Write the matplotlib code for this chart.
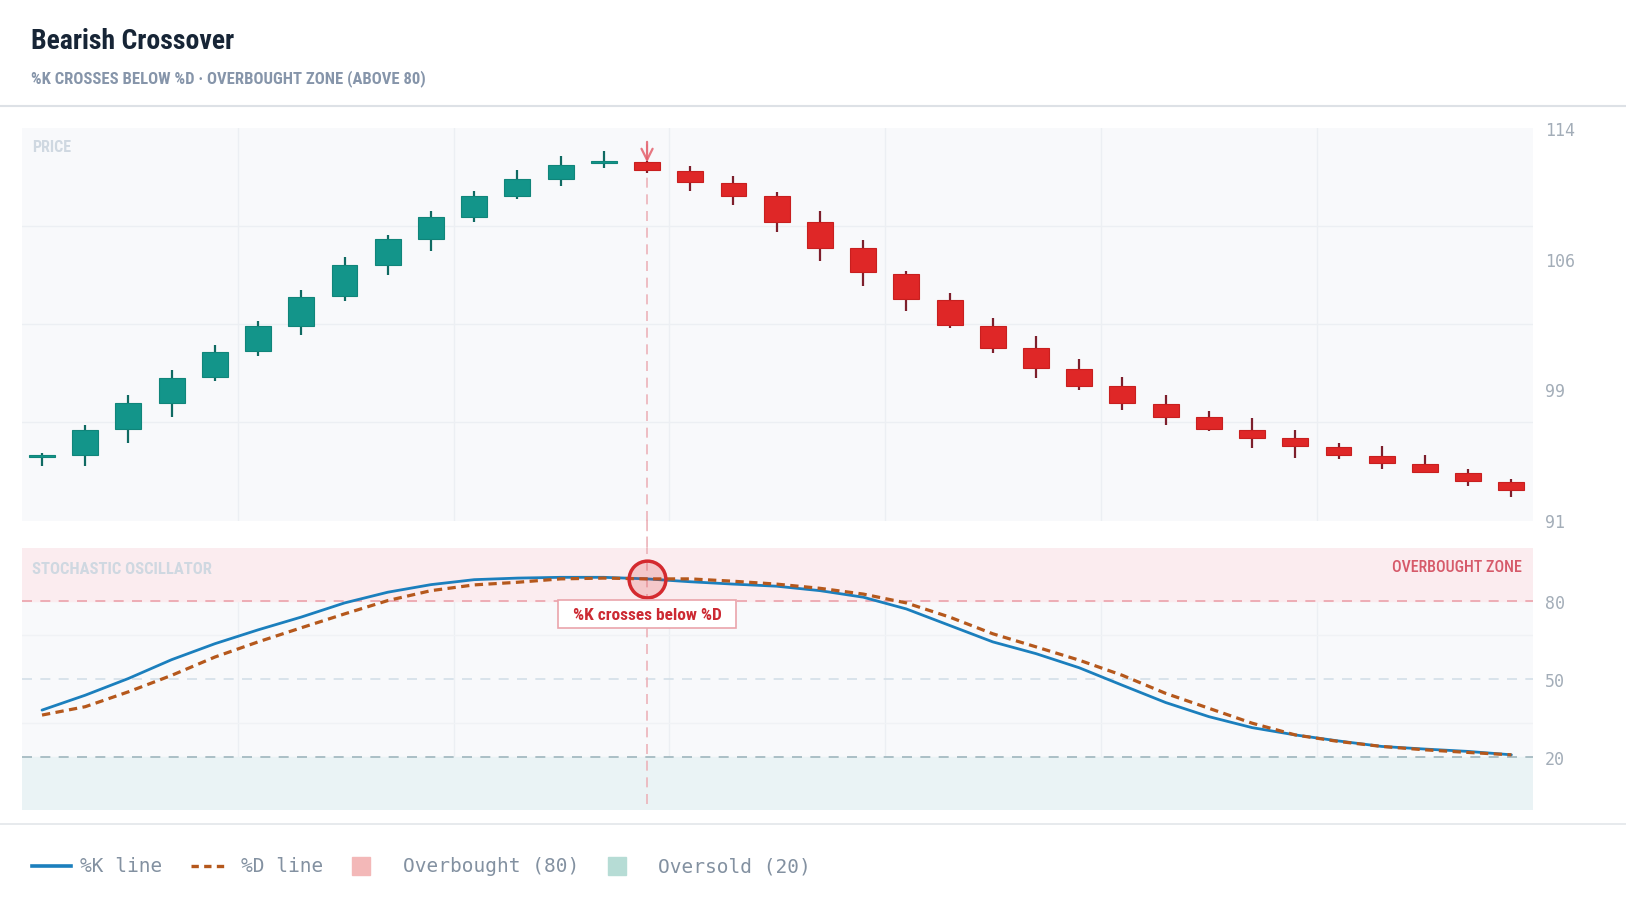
import matplotlib
matplotlib.use("Agg")
import numpy as np
import matplotlib.pyplot as plt
from matplotlib import font_manager
from matplotlib.font_manager import FontProperties
from matplotlib.lines import Line2D
from matplotlib.patches import Rectangle, ConnectionPatch

# ---- data ----
opens = [94.70, 94.83, 96.36, 97.86, 99.38, 100.90, 102.40, 104.14, 105.95, 107.47,
         108.78, 109.99, 111.01, 111.90, 111.98, 111.47, 110.77, 109.97, 108.45, 106.93,
         105.41, 103.90, 102.40, 101.08, 99.87, 98.85, 97.82, 97.04, 96.32, 95.81,
         95.28, 94.80, 94.31, 93.78, 93.25]
closes = [94.78, 96.32, 97.86, 99.36, 100.88, 102.38, 104.10, 105.95, 107.45, 108.76,
          109.97, 110.97, 111.79, 111.96, 111.51, 110.81, 110.01, 108.49, 106.97, 105.53,
          103.94, 102.42, 101.11, 99.91, 98.89, 97.86, 97.08, 96.36, 95.85, 95.34,
          94.85, 94.35, 93.86, 93.33, 92.78]
highs = [94.95, 96.59, 98.35, 99.83, 101.27, 102.70, 104.49, 106.44, 107.73, 109.09,
         110.30, 111.51, 112.33, 112.60, 112.06, 111.77, 111.14, 110.22, 109.11, 107.44,
         105.58, 104.30, 102.83, 101.78, 100.45, 99.38, 98.36, 97.39, 96.98, 96.32,
         95.52, 95.34, 94.83, 94.01, 93.40]
lows = [94.21, 94.21, 95.54, 97.08, 99.18, 100.63, 101.88, 103.87, 105.39, 106.79,
        108.49, 109.80, 110.58, 111.61, 111.32, 110.30, 109.48, 107.87, 106.21, 104.70,
        103.28, 102.25, 100.82, 99.32, 98.66, 97.47, 96.59, 96.26, 95.24, 94.64,
        94.60, 94.01, 93.76, 93.00, 92.35]

k_line = [38.1, 43.8, 50.2, 57.4, 63.5, 68.8, 73.7, 79.1, 83.2, 86.1,
          88.0, 88.6, 88.9, 88.9, 88.3, 87.2, 86.3, 85.5, 83.8, 81.3,
          76.8, 70.5, 64.2, 59.7, 54.3, 47.6, 41.0, 35.6, 31.4, 28.6,
          26.3, 24.2, 23.2, 22.3, 21.0]
d_line = [36.2, 39.4, 45.1, 51.4, 58.4, 64.2, 69.6, 74.9, 80.0, 83.8,
          86.0, 87.0, 88.3, 88.6, 88.3, 88.3, 87.4, 86.3, 84.7, 82.5,
          79.1, 73.7, 67.3, 62.3, 57.2, 51.4, 44.5, 38.8, 33.1, 28.6,
          26.1, 24.2, 22.9, 21.9, 21.0]

price_min, price_max = 91, 114
overbought, midline, oversold = 80, 50, 20
cross_idx = 14


# ---- fonts: look for a narrow / condensed sans face ----
def _weight(f):
    w = f.weight
    if isinstance(w, str):
        w = font_manager.weight_dict.get(w, 400)
    return int(w)


def find_condensed(want_bold):
    prefs = ["Liberation Sans Narrow", "Roboto Condensed", "Open Sans Condensed",
             "Noto Sans", "DejaVu Sans", "Open Sans", "Roboto", "Inter", "Lato"]
    best = None
    for f in font_manager.fontManager.ttflist:
        nm = f.name
        path = f.fname.lower()
        narrow = ("narrow" in nm.lower() or "condensed" in nm.lower()
                  or "condensed" in path or "narrow" in path
                  or f.stretch in ("condensed", "semi-condensed", "extra-condensed"))
        if not narrow or "mono" in nm.lower() or "serif" in nm.lower():
            continue
        if "italic" in path or "oblique" in path or f.style != "normal":
            continue
        w = _weight(f)
        score = abs(w - (700 if want_bold else 500))
        rank = next((i for i, p in enumerate(prefs) if nm.startswith(p)), len(prefs))
        key = (rank, score)
        if best is None or key < best[0]:
            best = (key, f.fname)
    return best[1] if best else None


_b = find_condensed(True)
_r = find_condensed(False)
names = {f.name for f in font_manager.fontManager.ttflist}
_fallback = "Roboto" if "Roboto" in names else "Liberation Sans"


def cfont(size, bold=False):
    path = _b if bold else _r
    if path:
        return FontProperties(fname=path, size=size)
    return FontProperties(family=_fallback, size=size * 0.9,
                          weight="bold" if bold else "medium")


MONO = "DejaVu Sans Mono"

GREEN = "#13958a"
GREEN_WICK = "#0f6a62"
RED = "#df2727"
RED_WICK = "#7d1f2c"
K_COL = "#1b7fbd"
D_COL = "#b5581c"
PANEL = "#f8f9fb"
GRID = "#eceff3"
TICK = "#a3adb8"

W, H = 1626, 904
fig = plt.figure(figsize=(W / 100, H / 100), dpi=100)
fig.patch.set_facecolor("white")


def fx(px):
    return px / W


def fy(py):
    return 1 - py / H


left, right = 21.7, 1533
ax1 = fig.add_axes([fx(left), fy(521.5), fx(right - left), (521.5 - 128.5) / H])
ax2 = fig.add_axes([fx(left), fy(810.7), fx(right - left), (810.7 - 549.3) / H])

n = len(opens)
x = np.arange(n)
o = np.array(opens)
c = np.array(closes)
up = c >= o

for ax in (ax1, ax2):
    ax.set_facecolor(PANEL)
    for s in ax.spines.values():
        s.set_visible(False)
    ax.set_xlim(-0.47, n - 0.5)
    ax.set_xticks([])
    for k in range(1, 7):
        ax.axvline(-0.47 + (n - 0.5 + 0.47) * k / 7, color=GRID, lw=1, zorder=0)
    ax.yaxis.tick_right()
    ax.tick_params(axis="y", length=0, pad=8.6, labelsize=12, labelcolor=TICK)

# ---- price panel ----
ax1.set_ylim(price_min, price_max)
for v in np.linspace(price_min, price_max, 5)[1:-1]:
    ax1.axhline(v, color=GRID, lw=1, zorder=0)
pticks = np.linspace(price_min, price_max, 4)
ax1.set_yticks(pticks)
ax1.set_yticklabels([f"{t:.0f}" for t in pticks], family=MONO)

wick_cols = np.where(up, GREEN_WICK, RED_WICK)
body_cols = np.where(up, GREEN, RED)
ax1.vlines(x, lows, highs, colors=wick_cols, lw=1.6, zorder=2)
body_h = np.maximum(np.abs(c - o), 0.15)
body_b = np.minimum(o, c)
ax1.bar(x, body_h, bottom=body_b, width=0.6, color=body_cols,
        edgecolor=np.where(up, "#10857a", "#c81f1f"), lw=0.8, zorder=3)

# crossover marker
top_mark = highs[cross_idx] + 1.1
ax1.annotate("", xy=(cross_idx, highs[cross_idx] - 0.1), xytext=(cross_idx, top_mark),
             arrowprops=dict(arrowstyle="->", color="#e4606c", lw=1.6, shrinkA=0, shrinkB=0,
                             mutation_scale=20, alpha=0.85), zorder=5)
ax1.plot([cross_idx, cross_idx], [price_min, top_mark], color="#ecb3b9", lw=1.2,
         dashes=(6, 4), zorder=1)

# ---- oscillator panel ----
ax2.set_ylim(0, 100)
ax2.axhspan(overbought, 100, color="#fbecef", zorder=0)
ax2.axhspan(0, oversold, color="#eaf3f5", zorder=0)
for v in (100 / 3, 200 / 3):
    ax2.axhline(v, color="#f0f2f5", lw=1, zorder=0.5)
ax2.axhline(overbought, color="#eba2ab", lw=1.2, dashes=(6, 5), zorder=1)
ax2.axhline(midline, color="#d3dfe8", lw=1.2, dashes=(6, 5), zorder=1)
ax2.axhline(oversold, color="#9fb6bd", lw=1.2, dashes=(6, 5), zorder=1)
ax2.set_yticks([oversold, midline, overbought])
ax2.set_yticklabels([str(oversold), str(midline), str(overbought)], family=MONO)

ax2.plot([cross_idx, cross_idx], [2, 100], color="#ecb3b9", lw=1.2, dashes=(6, 4), zorder=1)
ax2.plot(x, k_line, color=K_COL, lw=2.0, zorder=3, solid_capstyle="round")
ax2.plot(x, d_line, color=D_COL, lw=2.3, dashes=(2.6, 1.7), zorder=4)

ax2.scatter([cross_idx], [k_line[cross_idx]], s=700, facecolor=(0.85, 0.15, 0.15, 0.18),
            edgecolor="#d42a2f", linewidth=2.5, zorder=6)
ax2.annotate("  %K crosses below %D  ", xy=(cross_idx, k_line[cross_idx]),
             xytext=(0, -25.5), textcoords="offset points", ha="center", va="center",
             fontproperties=cfont(12.5, bold=True), color="#cc2a33",
             bbox=dict(boxstyle="square,pad=0.38", fc="white", ec="#eaa4ab", lw=1.2),
             zorder=7)

# gap segment of the crossover line
gap = ConnectionPatch(xyA=(cross_idx, price_min), coordsA=ax1.transData,
                      xyB=(cross_idx, 100), coordsB=ax2.transData,
                      color="#ecb3b9", lw=1.2, linestyle=(0, (6, 4)))
fig.add_artist(gap)

# ---- header / labels ----
fig.text(fx(31), fy(41.5), "Bearish Crossover", fontproperties=cfont(20, bold=True),
         color="#172536", va="center", ha="left")
fig.text(fx(31), fy(79), "%K CROSSES BELOW %D · OVERBOUGHT ZONE (ABOVE 80)",
         fontproperties=cfont(12, bold=True), color="#8695aa", va="center", ha="left")
fig.add_artist(Line2D([0, 1], [fy(107), fy(107)], color="#dde1e6", lw=1.5))
fig.add_artist(Line2D([0, 1], [fy(825), fy(825)], color="#e3e6ea", lw=1.2))

fig.text(fx(31.7), fy(147.5), "PRICE", fontproperties=cfont(11.5, bold=True),
         color="#cfd8e1", va="center", ha="left")
fig.text(fx(31.7), fy(570), "STOCHASTIC OSCILLATOR", fontproperties=cfont(12, bold=True),
         color="#cfd8e1", va="center", ha="left")
fig.text(fx(1522), fy(567.5), "OVERBOUGHT ZONE", fontproperties=cfont(11.5, bold=False),
         color="#d65a6a", va="center", ha="right")

# ---- legend ----
ly = fy(867)
LEG = "#8391a1"
fig.add_artist(Line2D([fx(32), fx(71)], [ly, ly], color=K_COL, lw=2.6))
fig.text(fx(80), ly, "%K line", fontsize=14, family=MONO, color=LEG, va="center")
fig.add_artist(Line2D([fx(191), fx(229)], [ly, ly], color=D_COL, lw=2.4, dashes=(2.2, 1.6)))
fig.text(fx(241), ly, "%D line", fontsize=14, family=MONO, color=LEG, va="center")
fig.add_artist(Rectangle((fx(352), fy(876)), fx(18), 18 / H, color="#f3b8b8",
                         transform=fig.transFigure))
fig.text(fx(403), ly, "Overbought (80)", fontsize=14, family=MONO, color=LEG, va="center")
fig.add_artist(Rectangle((fx(608), fy(876)), fx(18), 18 / H, color="#b6dcd5",
                         transform=fig.transFigure))
fig.text(fx(658), ly, "Oversold (20)", fontsize=14, family=MONO, color=LEG, va="center")

fig.savefig("out.png", dpi=100)
plt.close(fig)
